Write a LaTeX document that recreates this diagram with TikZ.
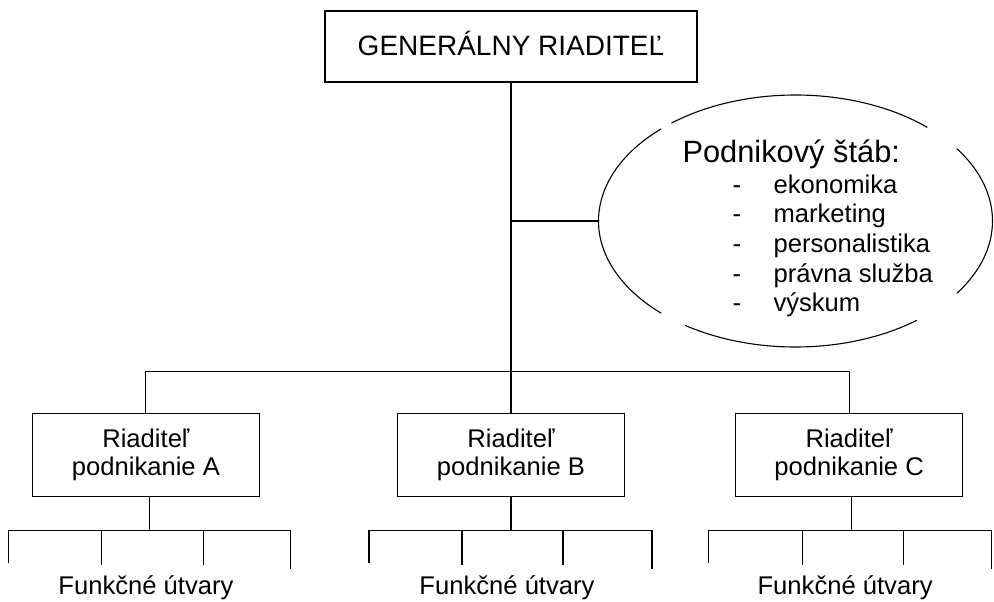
\documentclass[tikz,border=0pt]{standalone}
\usepackage{fontspec}
\setmainfont{Liberation Sans}
\usetikzlibrary{shapes.geometric, positioning, calc}

\begin{document}
\begin{tikzpicture}[
    x=1pt, y=1pt,
    line width=1.1pt,
    node distance=41pt and 120pt,
    box/.style={draw, rectangle, minimum width=227pt, minimum height=83pt, inner sep=0pt, align=center, font=\fontsize{25.6}{28}\selectfont},
    topbox/.style={draw, rectangle, minimum width=372pt, minimum height=71pt, text height=19pt, text depth=0pt, font=\fontsize{28}{32}\selectfont},
    oval/.style={ellipse, minimum width=394pt, minimum height=252pt, inner sep=0pt, outer sep=0pt},
    unit/.style={anchor=base, inner sep=0pt, font=\fontsize{25.6}{28}\selectfont}
]
\useasboundingbox (0,0) rectangle (994,-602);

% Top management
\node[topbox] (gen) at (511,-46.5) {GENERÁLNY RIADITEĽ};

% Staff
\node[oval] (stab) at (795.5,-221) {};
\node[anchor=base west, inner sep=0pt, font=\fontsize{25.6}{29.7}\selectfont] (stablist) at (682,-162) {%
  \begin{tabular}[t]{@{\hspace{50pt}}p{41pt}@{}l@{}}
  \multicolumn{2}{@{}l@{}}{\fontsize{30.8}{34}\selectfont Podnikový štáb:}\\[1.3pt]
  - & ekonomika\\
  - & marketing\\
  - & personalistika\\
  - & právna služba\\
  - & výskum
  \end{tabular}};

% Business directors
\node[box, below=330pt of gen] (B) {Riaditeľ\\podnikanie B};
\node[box, left=137pt of B] (A) {Riaditeľ\\podnikanie A};
\node[box, right=110pt of B] (C) {Riaditeľ\\podnikanie C};

% Connections
\draw (gen.south) -- ([yshift=41pt]B.north) coordinate (split);
\draw (A.north) |- (split) -| (C.north);
\draw (split) -- (B.north);
\draw (gen.south |- stab.west) -- (stab.west);

% Staff oval
\draw ($(stab.center)+(129:197pt and 126pt)$) arc[start angle=129, end angle=48, x radius=197pt, y radius=126pt];
\draw ($(stab.center)+(133:197pt and 126pt)$) arc[start angle=133, end angle=227, x radius=197pt, y radius=126pt];
\draw ($(stab.center)+(236:197pt and 126pt)$) arc[start angle=236, end angle=308, x radius=197pt, y radius=126pt];
\draw ($(stab.center)+(-35:197pt and 126pt)$) arc[start angle=-35, end angle=35, x radius=197pt, y radius=126pt];

% Functional units
\draw ([xshift=4pt]A.south) -- ++(0,-34) coordinate (forkA);
\draw (forkA) ++(-141,-32) |- ++(282,32) -- ++(0,-38);
\draw (forkA) ++(-48,0) -- ++(0,-34);
\draw (forkA) ++(54,0) -- ++(0,-34);
\node[unit] (unitA) at ([xshift=-4pt, yshift=-64pt]forkA) {Funkčné útvary};

\draw (B.south) -- ++(0,-34) coordinate (forkB);
\draw (forkB) ++(-142,-32) |- ++(283,32) -- ++(0,-38);
\draw (forkB) ++(-49,0) -- ++(0,-34);
\draw (forkB) ++(52,0) -- ++(0,-34);
\node[unit] (unitB) at ([xshift=-4pt, yshift=-64pt]forkB) {Funkčné útvary};

\draw ([xshift=2pt]C.south) -- ++(0,-34) coordinate (forkC);
\draw (forkC) ++(-143,-32) |- ++(283,32) -- ++(0,-38);
\draw (forkC) ++(-49,0) -- ++(0,-34);
\draw (forkC) ++(52,0) -- ++(0,-34);
\node[unit] (unitC) at ([xshift=-6pt, yshift=-64pt]forkC) {Funkčné útvary};

\end{tikzpicture}
\end{document}
